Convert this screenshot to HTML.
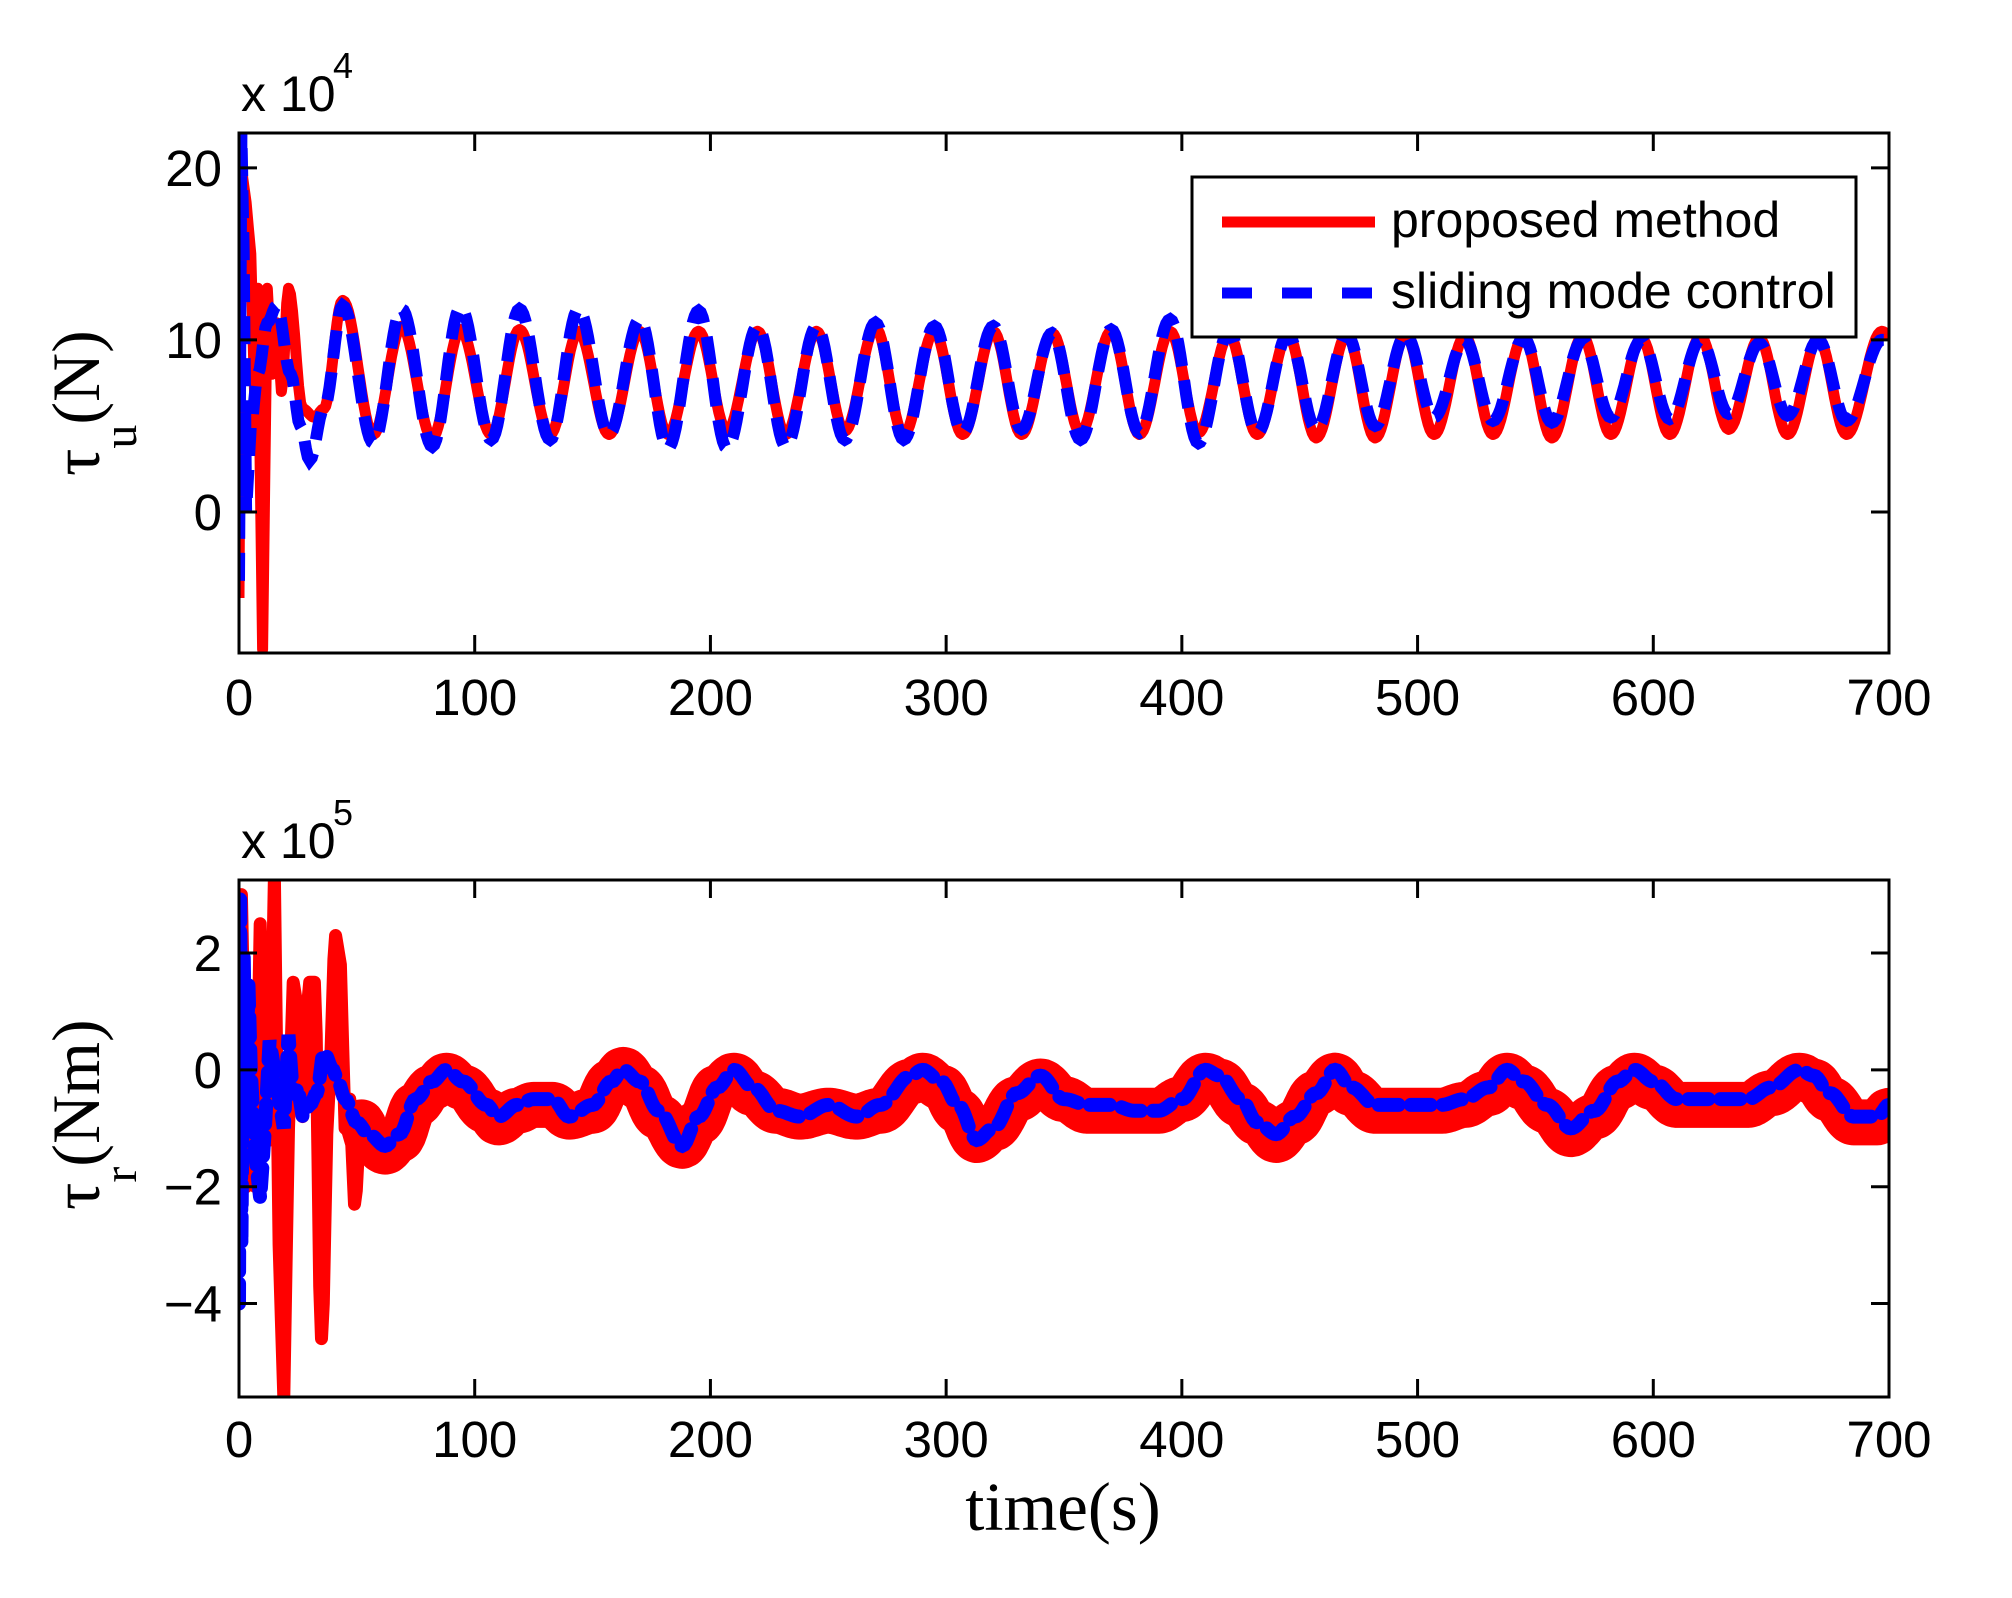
<!DOCTYPE html>
<html><head><meta charset="utf-8"><style>
html,body{margin:0;padding:0;background:#fff;}
svg{display:block;}
text{font-family:"Liberation Sans",Arial,sans-serif;fill:#000;}
.serif{font-family:"Liberation Serif","Times New Roman",serif;}
</style></head><body>
<svg id="chart" width="2012" height="1598" viewBox="0 0 2012 1598" xmlns="http://www.w3.org/2000/svg">
<defs>
<clipPath id="clipTop"><rect x="239" y="133" width="1650" height="520"/></clipPath>
<clipPath id="clipBot"><rect x="239" y="880" width="1650" height="517"/></clipPath>
</defs>
<g id="top-panel"></g>
<g id="bot-panel"></g>
</svg>
<script>
// ---- data ----
const xTicks = [0,100,200,300,400,500,600,700];
const topYTicks = [0,10,20];
const botYTicks = [-4,-2,0,2];
// top panel: tau_u (x1e4) extrema points [t, value]
const topRedT = [0,1,3,5,7,8,10,12,14,16,18,21,27,32,36,44,57,69,82,94,107,119,132,144,157,170,182,195,207,220,232,245,257,270,282,295,307,320,332,345,357,370,382,395,407,420,432,445,457,470,482,495,507,520,532,545,557,570,582,595,607,620,632,645,657,670,682,697,700];
const topRedV = [-5,20,18,15,5,13,-8,13,8,11,7,13,6,5.5,6,12.3,4.5,10.8,4.3,10.6,4.5,10.6,4.5,10.5,4.5,10.5,4.5,10.5,4.7,10.5,4.5,10.5,4.7,10.7,4.5,10.5,4.5,10.5,4.5,10.4,4.6,10.5,4.5,10.5,4.6,10.3,4.5,10.3,4.3,10.3,4.3,10.3,4.5,10.2,4.5,10.2,4.3,10.2,4.5,10.1,4.5,10.2,4.8,10.1,4.5,10.1,4.5,10.5,10.3];
const topBlueT = [0,1,2,3,5,8,12,16,22,26,30,36,44,57,69,82,94,107,119,132,144,157,170,182,195,207,220,232,245,257,270,282,295,307,320,332,345,357,370,382,395,407,420,432,445,457,470,482,495,507,520,532,545,557,570,582,595,607,620,632,645,657,670,682,697,700];
const topBlueV = [-4,22,15,0,5,8,11,12,8,5,3,6,12,4,11.8,3.8,11.9,4.2,11.8,4.2,11.8,4.5,11.2,3.7,11.7,3.7,10.8,3.8,10.8,4.2,11,4.2,10.8,4.6,10.8,4.8,10.4,4.2,10.6,4.6,11.2,4,10.5,4.6,10.3,4.8,10.3,5,10.3,5.5,10,5.3,10.1,5.2,10,5.5,10,5.4,10,5.7,9.8,5.6,10,5.3,10,10];
// bottom panel: tau_r (x1e5)
const botRedTransT = [0,1,2,3,5,7,9,11,13,15,17,19,21,23,25,27,30,32,35,38,41,43,45,47,49,52];
const botRedTransV = [-1,3,1,-2,0.5,-2,2.5,-0.5,-1.2,3.3,-3,-5.6,-1,1.5,1,-0.8,1.5,1.5,-4.6,-0.5,2.3,1.8,-1,-0.5,-2.3,-0.7];
const botRedT = [52,55,62,68,75,82,88,95,105,110,118,125,133,140,150,158,163,170,178,188,195,203,210,218,228,238,250,262,272,285,290,298,305,313,320,330,340,350,360,370,380,390,400,410,416,425,432,440,448,457,465,472,482,492,500,510,520,530,538,545,555,565,575,585,592,600,610,620,630,640,650,662,668,675,685,695,700];
const botRedV = [-0.9,-1.2,-1.4,-1.2,-0.6,-0.3,-0.1,-0.3,-0.7,-0.9,-0.7,-0.6,-0.6,-0.8,-0.7,-0.2,0,-0.3,-0.8,-1.3,-0.9,-0.3,-0.1,-0.4,-0.7,-0.8,-0.7,-0.8,-0.7,-0.2,-0.1,-0.3,-0.7,-1.2,-1,-0.5,-0.2,-0.5,-0.7,-0.7,-0.7,-0.7,-0.5,-0.1,-0.2,-0.6,-0.9,-1.2,-0.9,-0.4,-0.1,-0.4,-0.7,-0.7,-0.7,-0.7,-0.6,-0.4,-0.1,-0.3,-0.7,-1.1,-0.8,-0.3,-0.1,-0.3,-0.6,-0.6,-0.6,-0.6,-0.4,-0.1,-0.2,-0.5,-0.9,-0.9,-0.7];
const botBlueT = [0,0.5,1,2,3,4,5,7,9,11,13,15,17,19,21,23,25,27,30,33,36,40,42,45,50,55,62,68,75,82,88,95,105,110,118,125,133,140,150,158,163,170,178,188,195,203,210,218,228,238,250,262,272,285,290,298,305,313,320,330,340,350,360,370,380,390,400,410,416,425,432,440,448,457,465,472,482,492,500,510,520,530,538,545,555,565,575,585,592,600,610,620,630,640,650,662,668,675,685,695,700];
const botBlueV = [-4,3,-3,2,-1,1.5,0,-1.5,-2.2,-1,0.5,0,-0.5,-1,0.6,-0.5,-0.3,-0.8,-0.6,-0.4,0.3,0,-0.2,-0.5,-0.9,-1.1,-1.3,-1.1,-0.5,-0.2,0,-0.2,-0.6,-0.8,-0.6,-0.5,-0.5,-0.8,-0.6,-0.2,0,-0.2,-0.7,-1.3,-0.8,-0.3,0,-0.3,-0.7,-0.8,-0.6,-0.8,-0.6,-0.1,0,-0.2,-0.6,-1.2,-1,-0.4,-0.1,-0.5,-0.6,-0.6,-0.7,-0.7,-0.5,0,-0.1,-0.5,-0.9,-1.1,-0.8,-0.4,0,-0.3,-0.6,-0.6,-0.6,-0.6,-0.5,-0.3,0,-0.2,-0.6,-1,-0.7,-0.2,0,-0.2,-0.5,-0.5,-0.5,-0.5,-0.3,0,-0.1,-0.4,-0.8,-0.8,-0.6];

const NS='http://www.w3.org/2000/svg';
function mk(tag, attrs, parent){const e=document.createElementNS(NS,tag);for(const k in attrs)e.setAttribute(k,attrs[k]);parent.appendChild(e);return e;}

const L=239,R=1889;
function xScale(t){return L+(t-0)/(700-0)*(R-L);}
function makeY(top,bottom,vmax,vmin){return v=>top+(vmax-v)/(vmax-vmin)*(bottom-top);}
const yTop = makeY(133,653,22.03,-8.2);
const yBot = makeY(880,1397,3.25,-5.6);

// smooth path through extrema via cosine interpolation
function pathFrom(T,V,ys){
  let d='M'+xScale(T[0]).toFixed(1)+','+ys(V[0]).toFixed(1);
  for(let i=1;i<T.length;i++){
    const n=Math.max(1,Math.round((T[i]-T[i-1])*1.2));
    for(let k=1;k<=n;k++){
      const f=k/n, w=(1-Math.cos(Math.PI*f))/2;
      const t=T[i-1]+(T[i]-T[i-1])*f, v=V[i-1]+(V[i]-V[i-1])*w;
      d+=' L'+xScale(t).toFixed(1)+','+ys(v).toFixed(1);
    }
  }
  return d;
}

function drawAxes(g,top,bottom,ys,yticks,expText,baseY){
  const box=mk('rect',{x:L,y:top,width:R-L,height:bottom-top,fill:'none',stroke:'#000','stroke-width':3},g);
  
  
  xTicks.forEach(t=>{
    const x=xScale(t);
    const tk=mk('path',{d:`M${x},${bottom}V${bottom-18}M${x},${top}V${top+18}`,stroke:'#000','stroke-width':3},g);
    
    
    const lb=mk('text',{x:x,y:baseY,'font-size':51,'text-anchor':'middle'},g);
    lb.textContent=String(t);
    
    
  });
  yticks.forEach(v=>{
    const y=ys(v);
    const tk=mk('path',{d:`M${L},${y}H${L+18}M${R},${y}H${R-18}`,stroke:'#000','stroke-width':3},g);
    
    
    const lb=mk('text',{x:222,y:y+18,'font-size':51,'text-anchor':'end'},g);
    lb.textContent=(v<0?'\u2212'+Math.abs(v):String(v));
    
    
  });
  const ex=mk('text',{x:241,y:top-22,'font-size':50},g);
  ex.textContent='x 10';
  
  
  const sup=mk('text',{x:333,y:top-55,'font-size':36},g);
  sup.textContent=expText;
  
  
}

const gT=document.getElementById('top-panel');
const gB=document.getElementById('bot-panel');

// top series
const tSeries=mk('g',{'clip-path':'url(#clipTop)'},gT);


const r1=mk('path',{d:pathFrom(topRedT,topRedV,yTop),fill:'none',stroke:'#ff0000','stroke-width':11,'stroke-linejoin':'round'},tSeries);


const b1=mk('path',{d:pathFrom(topBlueT,topBlueV,yTop),fill:'none',stroke:'#0000ff','stroke-width':12,'stroke-dasharray':'28 14'},tSeries);


drawAxes(gT,133,653,yTop,topYTicks,'4',715);

// bottom series
const bSeries=mk('g',{'clip-path':'url(#clipBot)'},gB);


const r2=mk('path',{d:pathFrom(botRedTransT,botRedTransV,yBot),fill:'none',stroke:'#ff0000','stroke-width':13,'stroke-linejoin':'round'},bSeries);


const r3=mk('path',{d:pathFrom(botRedT,botRedV,yBot),fill:'none',stroke:'#ff0000','stroke-width':46,'stroke-linejoin':'round','stroke-linecap':'round'},bSeries);


const b2=mk('path',{d:pathFrom(botBlueT,botBlueV,yBot),fill:'none',stroke:'#0000ff','stroke-width':14,'stroke-dasharray':'20 12','stroke-linecap':'round'},bSeries);


drawAxes(gB,880,1397,yBot,botYTicks,'5',1457);

// legend
const lg=mk('g',{},gT);


mk('rect',{x:1192,y:177,width:664,height:160,fill:'#fff',stroke:'#000','stroke-width':3},lg);
const le1=mk('line',{x1:1222,y1:222,x2:1375,y2:222,stroke:'#ff0000','stroke-width':11},lg);


const lt1=mk('text',{x:1391,y:237,'font-size':50},lg);
lt1.textContent='proposed method';


const le2=mk('line',{x1:1222,y1:293,x2:1375,y2:293,stroke:'#0000ff','stroke-width':11,'stroke-dasharray':'30 30'},lg);


const lt2=mk('text',{x:1391,y:308,'font-size':50},lg);
lt2.textContent='sliding mode control';



// axis titles
const svg=document.getElementById('chart');
const yt1=mk('text',{class:'serif','font-size':68,transform:'translate(99,476) rotate(-90)'},svg);
yt1.innerHTML='τ<tspan font-size="48" dy="37">u</tspan><tspan dy="-37">(N)</tspan>';


const yt2=mk('text',{class:'serif','font-size':68,transform:'translate(99,1210) rotate(-90)'},svg);
yt2.innerHTML='τ<tspan font-size="48" dy="37">r</tspan><tspan dy="-37">(Nm)</tspan>';


const xt=mk('text',{class:'serif','font-size':69,x:1063,y:1530,'text-anchor':'middle'},svg);
xt.textContent='time(s)';


</script>
</body></html>
